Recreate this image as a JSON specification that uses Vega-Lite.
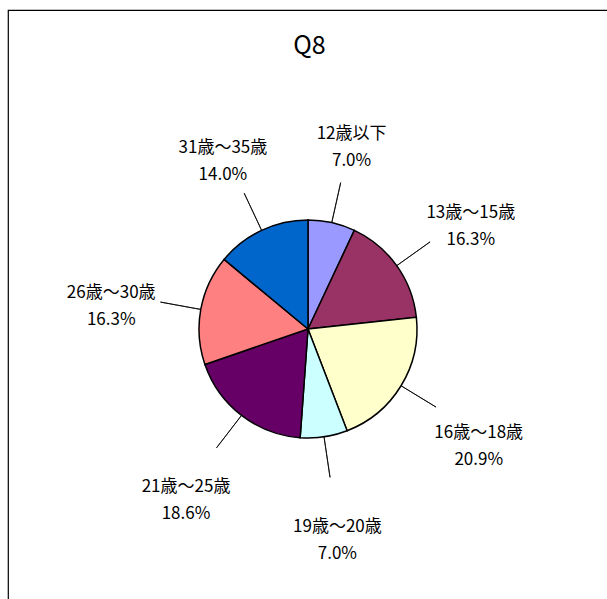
{
  "$schema": "https://vega.github.io/schema/vega-lite/v6.json",
  "width": 607,
  "height": 599,
  "autosize": {"type": "fit", "contains": "padding"},
  "padding": {"left": 8, "top": 10, "right": -4, "bottom": -4},
  "background": "white",
  "view": {"stroke": "#000", "strokeWidth": 1.2, "fill": "white"},
  "config": {"font": "Noto Sans CJK JP"},
  "title": {"text": "Q8", "fontSize": 25, "fontWeight": "normal", "font": "Noto Sans CJK JP", "color": "#000", "anchor": "middle", "offset": -49},
  "data": {
    "values": [
      {"label": "12歳以下", "pct": 7.0, "order": 1},
      {"label": "13歳～15歳", "pct": 16.3, "order": 2},
      {"label": "16歳～18歳", "pct": 20.9, "order": 3},
      {"label": "19歳～20歳", "pct": 7.0, "order": 4},
      {"label": "21歳～25歳", "pct": 18.6, "order": 5},
      {"label": "26歳～30歳", "pct": 16.3, "order": 6},
      {"label": "31歳～35歳", "pct": 14.0, "order": 7}
    ]
  },
  "transform": [
    {"stack": "pct", "groupby": [], "sort": [{"field": "order"}], "as": ["start", "end"]},
    {"calculate": "(datum.start + datum.end) / 2", "as": "mid"},
    {"calculate": "datum.label + '\\n' + format(datum.pct, '.1f') + '%'", "as": "txt"}
  ],
  "layer": [
    {
      "mark": {"type": "arc", "outerRadius": 109, "stroke": "#000", "strokeWidth": 1.5, "x": {"expr": "300"}, "y": {"expr": "319"}},
      "encoding": {
        "theta": {"field": "start", "type": "quantitative", "scale": {"domain": [0, 100.1]}},
        "theta2": {"field": "end"},
        "color": {
          "field": "label",
          "type": "nominal",
          "scale": {
            "domain": ["12歳以下", "13歳～15歳", "16歳～18歳", "19歳～20歳", "21歳～25歳", "26歳～30歳", "31歳～35歳"],
            "range": ["#9999FF", "#993366", "#FFFFCC", "#CCFFFF", "#660066", "#FF8080", "#0066CC"]
          },
          "legend": null
        }
      }
    },
    {
      "mark": {"type": "arc", "innerRadius": 109, "outerRadius": 150, "stroke": "#000", "strokeWidth": 0.8, "fill": null, "x": {"expr": "300"}, "y": {"expr": "319"}},
      "encoding": {
        "theta": {"field": "mid", "type": "quantitative"},
        "theta2": {"field": "mid"}
      }
    },
    {
      "mark": {"type": "text", "radius": 200, "fontSize": 17, "lineHeight": 27, "align": "center", "baseline": "middle", "lineBreak": "\n", "color": "#000", "x": {"expr": "300"}, "y": {"expr": "319"}},
      "encoding": {
        "theta": {"field": "mid", "type": "quantitative"},
        "text": {"field": "txt"}
      }
    }
  ]
}
